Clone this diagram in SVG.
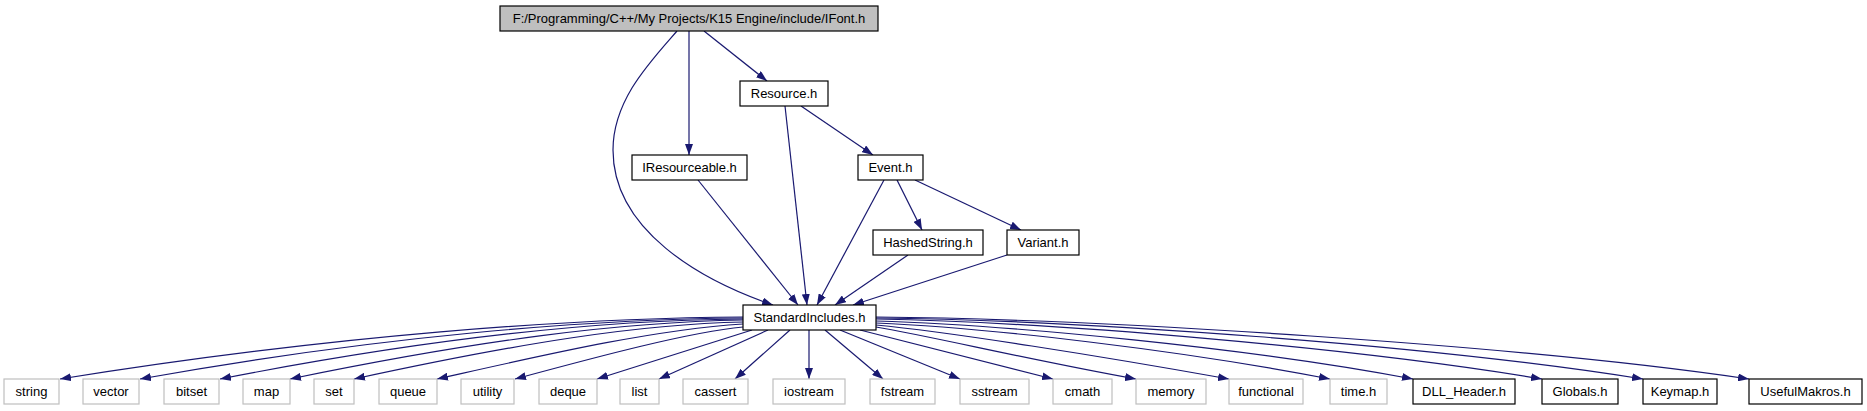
<svg xmlns="http://www.w3.org/2000/svg" width="1867" height="411" viewBox="0 0 1867 411">
<defs>
<marker id="arr" markerUnits="userSpaceOnUse" markerWidth="11" markerHeight="8" refX="11" refY="4" orient="auto">
<path d="M0,0 L11,4 L0,8 z" fill="#191970"/>
</marker>
<style>
.n rect{fill:#fff;stroke:#000;stroke-width:1.2}
.g rect{fill:#fff;stroke:#bfbfbf;stroke-width:1.2}
.r rect{fill:#bfbfbf;stroke:#000;stroke-width:1.2}
text{font-family:"Liberation Sans",Arial,sans-serif;font-size:13px;fill:#000;text-anchor:middle}
#edges path{fill:none;stroke:#191970;stroke-width:1.2;marker-end:url(#arr)}
</style>
</defs>
<g id="edges">
<path d="M677,31 C650,62 613,100 613,150 C613,230 700,280 773,305"/>
<path d="M689,31 L689,155"/>
<path d="M704,31 L767,81"/>
<path d="M785,106 L807,305"/>
<path d="M801,106 L873,155"/>
<path d="M698,180 L798,305"/>
<path d="M884,180 L817,305"/>
<path d="M897,180 L922,230"/>
<path d="M915,180 L1021,230"/>
<path d="M908,255 L835,305"/>
<path d="M1007,255 L853,305"/>
<path d="M743,317 C573,318 334,335 60,379"/>
<path d="M743,318 C590,319 380,336 140,379"/>
<path d="M743,319 C600,320 430,338 220,379"/>
<path d="M743,320 C620,322 480,340 290,379"/>
<path d="M743,322 C640,324 520,343 354,379"/>
<path d="M743,324 C650,330 540,356 437,379"/>
<path d="M743,327 C690,332 600,356 515,379"/>
<path d="M752,330 L597,379"/>
<path d="M768,330 L659,379"/>
<path d="M790,330 L735,379"/>
<path d="M809,330 L809,379"/>
<path d="M825,330 L883,379"/>
<path d="M840,330 L960,379"/>
<path d="M860,330 L1053,379"/>
<path d="M876,327 C930,336 1030,360 1136,379"/>
<path d="M876,325 C950,332 1100,356 1229,379"/>
<path d="M876,323 C990,328 1180,350 1330,379"/>
<path d="M876,321 C1010,325 1250,348 1413,379"/>
<path d="M876,319 C1050,322 1350,347 1542,379"/>
<path d="M876,318 C1080,320 1430,345 1643,379"/>
<path d="M876,317 C1100,319 1520,345 1749,379"/>
</g>
<g id="root" class="r"><rect x="500" y="6" width="378" height="25"/><text x="689" y="23">F:/Programming/C++/My Projects/K15 Engine/include/IFont.h</text></g>
<g id="resource" class="n"><rect x="740" y="81" width="88" height="25"/><text x="784" y="98">Resource.h</text></g>
<g id="iresourceable" class="n"><rect x="632" y="155" width="115" height="25"/><text x="689.5" y="172">IResourceable.h</text></g>
<g id="event" class="n"><rect x="858" y="155" width="65" height="25"/><text x="890.5" y="172">Event.h</text></g>
<g id="hashedstring" class="n"><rect x="873" y="230" width="110" height="25"/><text x="928" y="247">HashedString.h</text></g>
<g id="variant" class="n"><rect x="1007" y="230" width="72" height="25"/><text x="1043" y="247">Variant.h</text></g>
<g id="standardincludes" class="n"><rect x="743" y="305" width="133" height="25"/><text x="809.5" y="322">StandardIncludes.h</text></g>
<g id="string" class="g"><rect x="4" y="379" width="55" height="25"/><text x="31.5" y="396">string</text></g>
<g id="vector" class="g"><rect x="83" y="379" width="56" height="25"/><text x="111" y="396">vector</text></g>
<g id="bitset" class="g"><rect x="164" y="379" width="55" height="25"/><text x="191.5" y="396">bitset</text></g>
<g id="map" class="g"><rect x="243" y="379" width="47" height="25"/><text x="266.5" y="396">map</text></g>
<g id="set" class="g"><rect x="314" y="379" width="40" height="25"/><text x="334" y="396">set</text></g>
<g id="queue" class="g"><rect x="379" y="379" width="58" height="25"/><text x="408" y="396">queue</text></g>
<g id="utility" class="g"><rect x="461" y="379" width="53" height="25"/><text x="487.5" y="396">utility</text></g>
<g id="deque" class="g"><rect x="539" y="379" width="58" height="25"/><text x="568" y="396">deque</text></g>
<g id="list" class="g"><rect x="620" y="379" width="39" height="25"/><text x="639.5" y="396">list</text></g>
<g id="cassert" class="g"><rect x="683" y="379" width="65" height="25"/><text x="715.5" y="396">cassert</text></g>
<g id="iostream" class="g"><rect x="773" y="379" width="72" height="25"/><text x="809" y="396">iostream</text></g>
<g id="fstream" class="g"><rect x="870" y="379" width="65" height="25"/><text x="902.5" y="396">fstream</text></g>
<g id="sstream" class="g"><rect x="960" y="379" width="69" height="25"/><text x="994.5" y="396">sstream</text></g>
<g id="cmath" class="g"><rect x="1053" y="379" width="59" height="25"/><text x="1082.5" y="396">cmath</text></g>
<g id="memory" class="g"><rect x="1136" y="379" width="70" height="25"/><text x="1171" y="396">memory</text></g>
<g id="functional" class="g"><rect x="1229" y="379" width="74" height="25"/><text x="1266" y="396">functional</text></g>
<g id="timeh" class="g"><rect x="1330" y="379" width="57" height="25"/><text x="1358.5" y="396">time.h</text></g>
<g id="dllheader" class="n"><rect x="1413" y="379" width="102" height="25"/><text x="1464" y="396">DLL_Header.h</text></g>
<g id="globals" class="n"><rect x="1542" y="379" width="76" height="25"/><text x="1580" y="396">Globals.h</text></g>
<g id="keymap" class="n"><rect x="1643" y="379" width="74" height="25"/><text x="1680" y="396">Keymap.h</text></g>
<g id="usefulmakros" class="n"><rect x="1749" y="379" width="113" height="25"/><text x="1805.5" y="396">UsefulMakros.h</text></g>
</svg>
